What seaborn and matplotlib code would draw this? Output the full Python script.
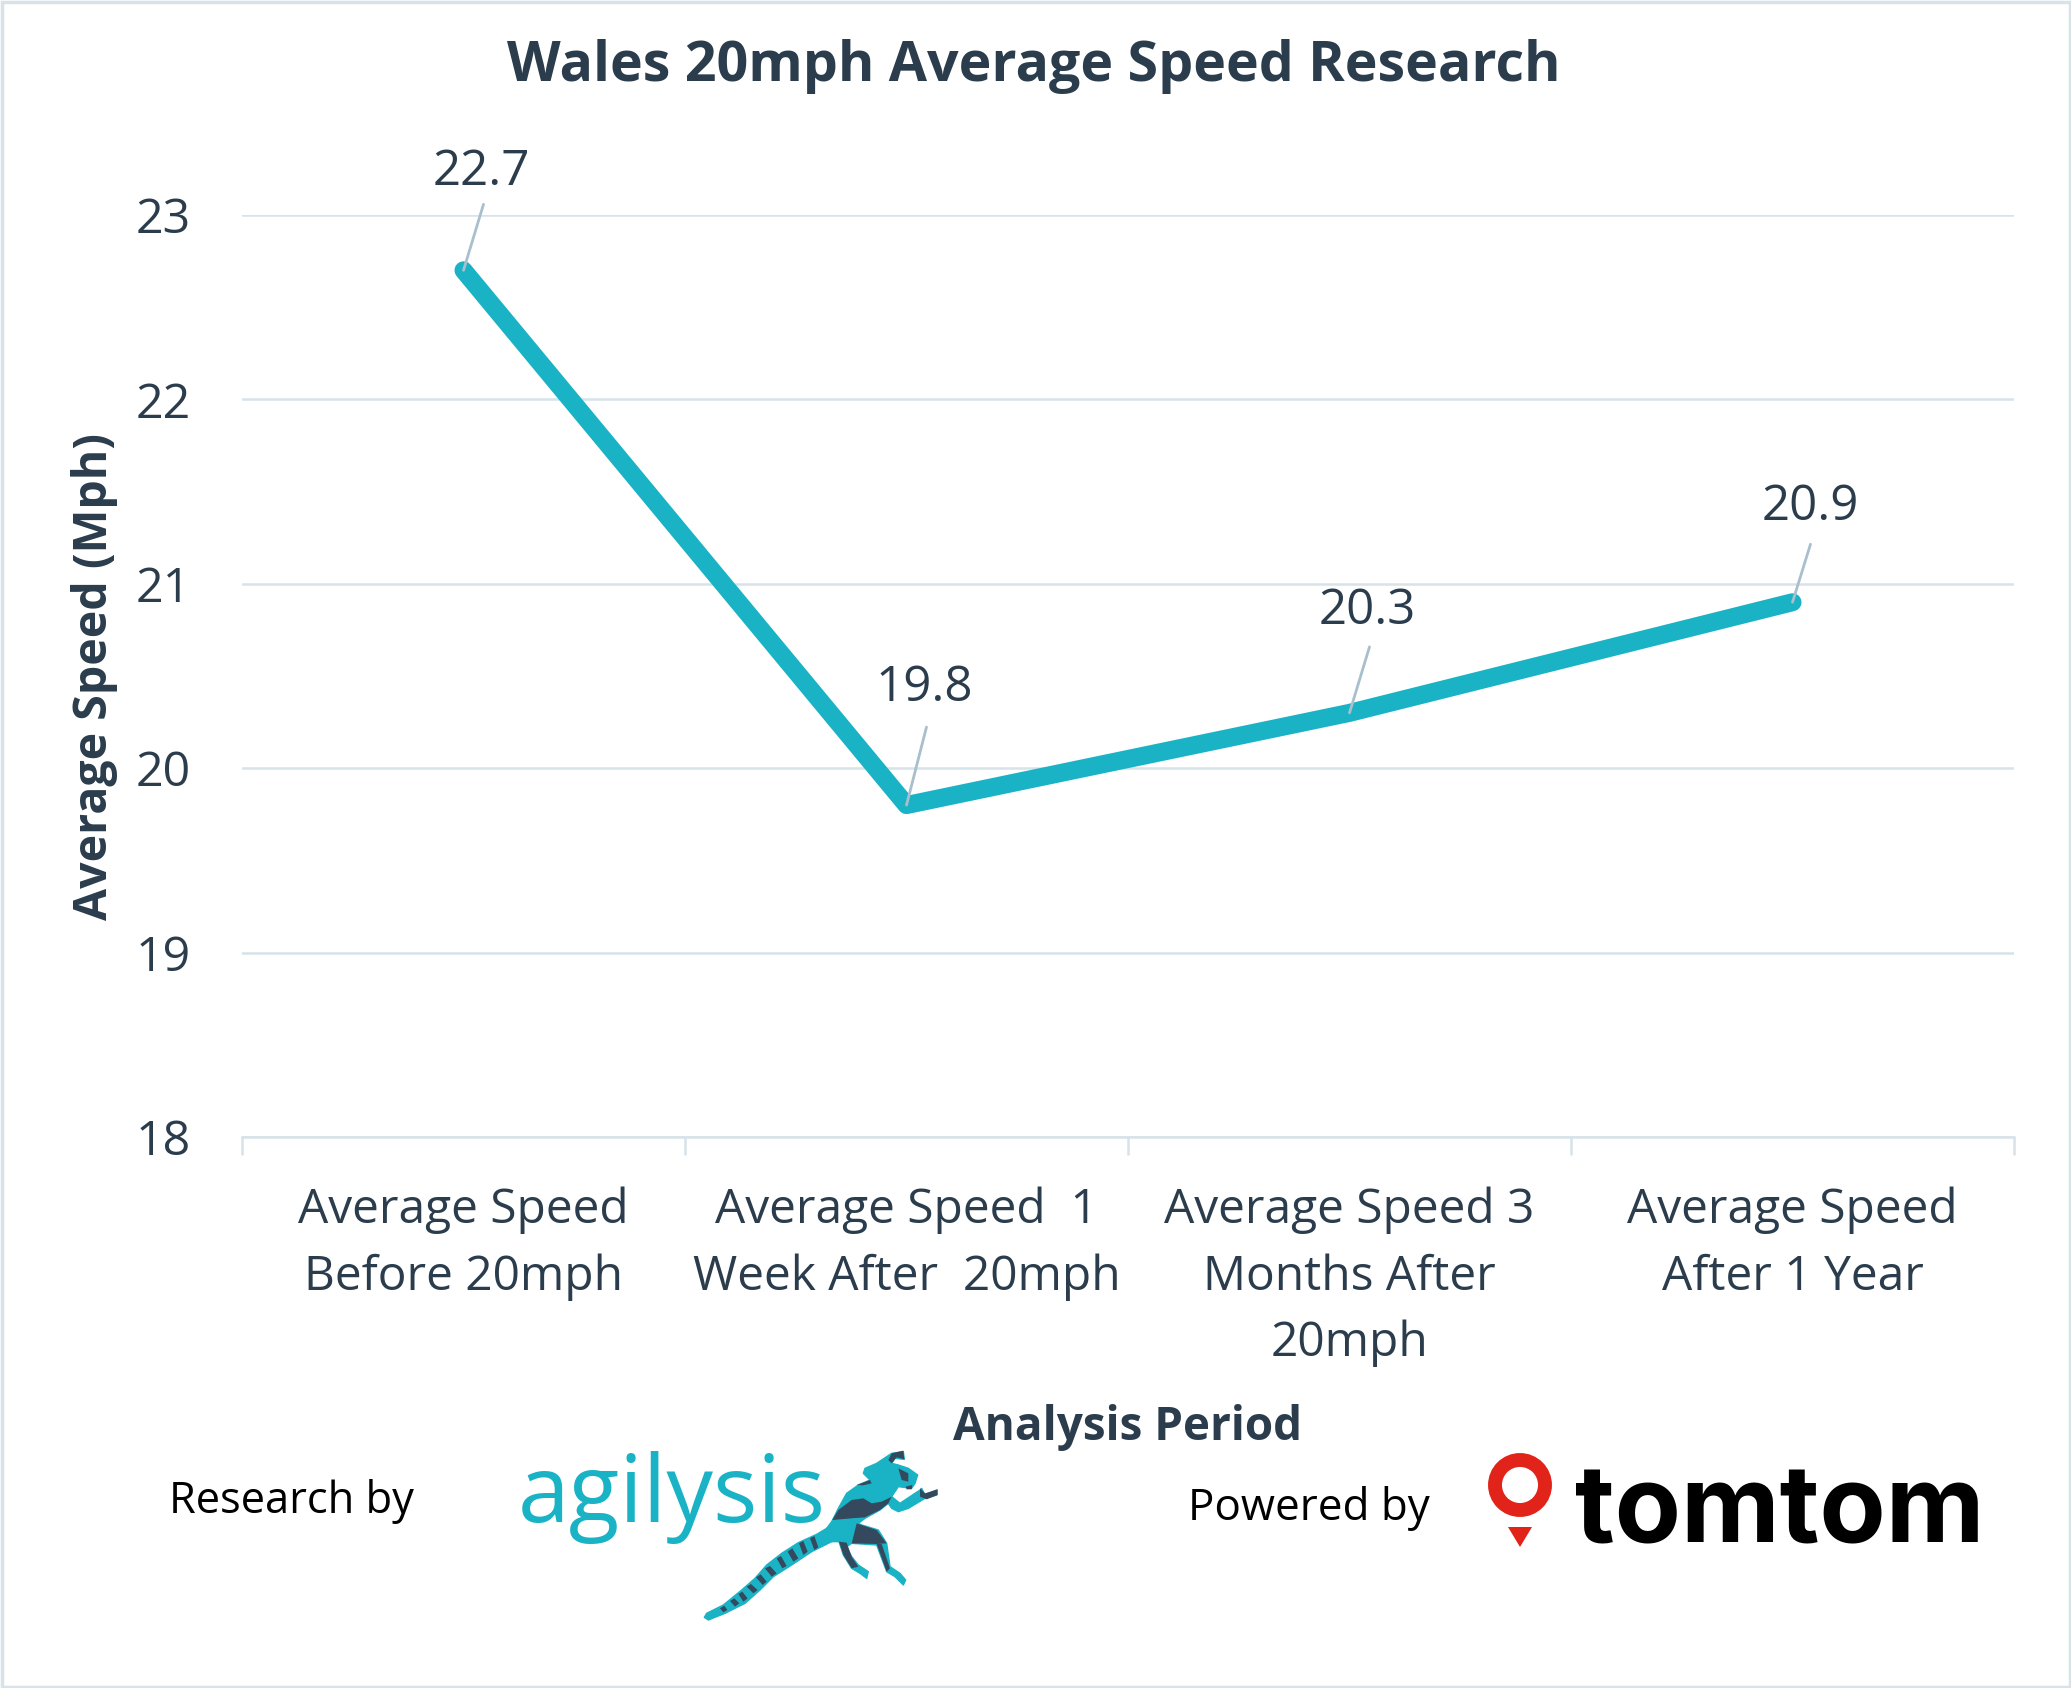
import matplotlib
matplotlib.use("Agg")
import matplotlib.pyplot as plt
from matplotlib.patches import Ellipse, Polygon
import pandas as pd
import seaborn as sns

periods = [
    "Before",
    "1 Week",
    "3 Months",
    "1 Year",
]
period_labels = [
    "Average Speed\nBefore 20mph",
    "Average Speed  1\nWeek After  20mph",
    "Average Speed 3\nMonths After\n20mph",
    "Average Speed\nAfter 1 Year",
]
avg_speed = [22.7, 19.8, 20.3, 20.9]
y_ticks = [18, 19, 20, 21, 22, 23]

TEAL = "#1ab3c6"
DARK = "#34495e"
INK = "#2b3d4c"
GRID = "#d7e2e9"
LEADER = "#a9bfce"
RED = "#e2231a"
W, H = 2071, 1688

# pixel offsets of label centre and leader end from each point
label_offsets = [(18, 98), (18, 117), (18, 102), (18, 95)]
leader_offsets = [(20, 66), (20, 78), (20, 66), (18, 58)]

sns.set_theme(style="white")
plt.rcParams["font.family"] = ["Open Sans", "DejaVu Sans"]

fig = plt.figure(figsize=(W / 100, H / 100), dpi=100, facecolor="white")
ax = fig.add_axes([242 / W, 1 - 1137 / H, (2014 - 242) / W, (1137 - 215) / H])

df = pd.DataFrame({"period": periods, "speed": avg_speed})
sns.lineplot(
    data=df, x="period", y="speed", ax=ax, color=TEAL, linewidth=13,
    solid_capstyle="round", solid_joinstyle="round", clip_on=False, zorder=3,
)

ax.set_xlim(-0.5, 3.5)
ax.set_ylim(18, 23)
ax.set_yticks(y_ticks)
ax.set_xticks(range(len(periods)))
ax.set_xticklabels(period_labels, linespacing=1.51)
ax.set_xticks([-0.5, 0.5, 1.5, 2.5, 3.5], minor=True)
ax.tick_params(axis="x", which="major", length=0, pad=36, labelsize=34.5, labelcolor=INK)
ax.tick_params(axis="x", which="minor", bottom=True, length=13, width=1.8, color=GRID)
ax.tick_params(axis="y", length=0, pad=37, labelsize=34.8, labelcolor=INK)
ax.grid(axis="y", color=GRID, linewidth=1.8)
ax.set_axisbelow(True)
sns.despine(ax=ax, left=True, top=True, right=True)
ax.spines["bottom"].set_color(GRID)
ax.spines["bottom"].set_linewidth(1.8)

ax.set_xlabel("Analysis Period", fontsize=33, fontweight="bold", color=INK)
ax.xaxis.set_label_coords(0.5, -0.29)
ax.set_ylabel("Average Speed (Mph)", fontsize=33.5, fontweight="bold", color=INK)
ax.yaxis.set_label_coords(-0.070, 0.5)

for i, val in enumerate(avg_speed):
    ax.annotate(
        f"{val:.1f}", (i, val), xytext=label_offsets[i], textcoords="offset pixels",
        ha="center", va="center", fontsize=35.5, color=INK, zorder=5,
    )
    ax.annotate(
        "", (i, val), xytext=leader_offsets[i], textcoords="offset pixels",
        arrowprops=dict(arrowstyle="-", color=LEADER, linewidth=2, shrinkA=0, shrinkB=0),
        zorder=5,
    )

# full-figure overlay in pixels for the title, credits and logos
over = fig.add_axes([0, 0, 1, 1], zorder=10)
over.set_xlim(0, W)
over.set_ylim(H, 0)
over.axis("off")
over.patch.set_alpha(0)

over.text(1034, 66, "Wales 20mph Average Speed Research", fontsize=40, fontweight="bold",
          color=INK, ha="center", va="center")
over.text(169, 1513, "Research by", fontsize=31.3, color="black", ha="left", va="baseline")
over.text(1188, 1520, "Powered by", fontsize=31.7, color="black", ha="left", va="baseline")
over.text(518, 1522, "agilysis", fontsize=67, color=TEAL, ha="left", va="baseline")
over.text(1575, 1542, "tomtom", fontsize=78, color="black", ha="left", va="baseline",
          fontweight="bold", family="Inter")

# tomtom pin
over.add_patch(Ellipse((1520, 1485), 50, 50, facecolor="none", edgecolor=RED, linewidth=10))
over.add_patch(Polygon([(1508, 1527), (1532, 1527), (1520, 1547)], facecolor=RED, edgecolor="none"))


def lz(points):
    return [(695 + x / 3, 1440 + y / 3) for x, y in points]


tail = [(395, 265), (365, 283), (310, 308), (260, 340), (215, 375), (180, 415), (140, 450), (85, 495),
        (35, 520), (28, 532), (40, 540), (90, 520), (150, 490), (195, 450), (235, 410), (290, 375),
        (350, 335), (410, 305)]
body = [(395, 265), (410, 245), (430, 205), (455, 160), (490, 135), (525, 120), (505, 100), (510, 85),
        (545, 70), (590, 40), (625, 35), (628, 58), (600, 55), (590, 70), (610, 75), (640, 85),
        (668, 105), (660, 130), (650, 145), (610, 140), (590, 170), (615, 190), (675, 150), (680, 145),
        (690, 165), (725, 150), (725, 165), (690, 175), (640, 205), (610, 215), (590, 205), (580, 190),
        (555, 210), (510, 235), (490, 250), (500, 255), (550, 270), (575, 310), (585, 380), (615, 400),
        (632, 420), (625, 435), (600, 410), (575, 395), (545, 315), (470, 310), (455, 320), (470, 350),
        (490, 375), (520, 395), (515, 415), (495, 400), (470, 385), (445, 345), (432, 305), (410, 305)]
shades = [
    [(412, 240), (430, 210), (470, 180), (505, 175), (530, 190), (560, 185), (590, 170), (580, 190),
     (555, 210), (510, 232), (470, 235)],
    [(485, 135), (525, 120), (530, 130), (505, 136)],
    [(485, 250), (545, 270), (575, 310), (545, 312), (470, 310)],
    [(432, 305), (455, 308), (470, 350), (490, 380), (470, 385), (445, 345)],
    [(545, 312), (560, 312), (585, 385), (575, 395)],
    [(590, 40), (625, 32), (628, 58), (605, 52), (590, 70), (580, 60)],
    [(675, 145), (690, 160), (728, 148), (728, 165), (695, 178), (675, 170)],
    [(610, 85), (640, 100), (640, 125), (620, 120)],
    [(632, 140), (652, 135), (650, 148), (635, 148)],
]
stripes = [
    [(345, 295), (358, 288), (370, 322), (358, 330)],
    [(312, 310), (325, 303), (338, 335), (325, 345)],
    [(278, 335), (292, 325), (310, 355), (295, 365)],
    [(245, 355), (258, 348), (275, 378), (262, 385)],
    [(210, 385), (225, 378), (245, 400), (230, 410)],
    [(183, 412), (197, 403), (215, 425), (203, 435)],
    [(155, 440), (168, 432), (188, 450), (175, 460)],
    [(130, 462), (142, 455), (158, 475), (145, 485)],
    [(105, 483), (118, 475), (133, 490), (120, 500)],
    [(75, 505), (88, 497), (97, 510), (85, 517)],
]
over.add_patch(Polygon(lz(tail), facecolor=TEAL, edgecolor=TEAL, linewidth=1, joinstyle="round"))
over.add_patch(Polygon(lz(body), facecolor=TEAL, edgecolor=TEAL, linewidth=1, joinstyle="round"))
for part in shades + stripes:
    over.add_patch(Polygon(lz(part), facecolor=DARK, edgecolor="none"))

# pale frame round the whole picture
over.add_patch(plt.Rectangle((1.5, 1.5), W - 3, H - 3, facecolor="none", edgecolor=GRID, linewidth=2.5))

fig.savefig("out.png", dpi=100)
